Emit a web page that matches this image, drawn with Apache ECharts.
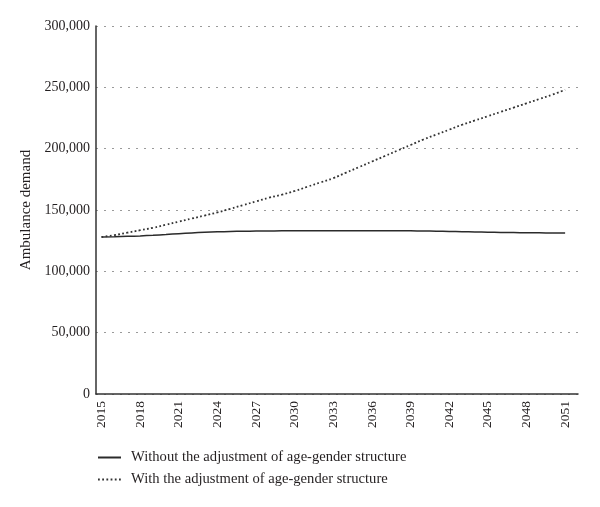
<!DOCTYPE html>
<html>
<head>
<meta charset="utf-8">
<script src="https://cdn.jsdelivr.net/npm/echarts@6/dist/echarts.min.js"></script>
<style>
  html, body { margin: 0; padding: 0; background: #fff; }
  #chart { width: 600px; height: 507px; }
</style>
</head>
<body>
<div id="chart"></div>
<script>
// years on the x axis (one point per year)
var years = [];
for (var y = 2015; y <= 2051; y++) years.push(y);

// tick labels shown under the axis
var yearLabels = [2015, 2018, 2021, 2024, 2027, 2030, 2033, 2036, 2039, 2042, 2045, 2048, 2051];

// ambulance demand
var withoutAdjust = [
  128000, 128200, 128500, 128900, 129400, 130000, 130700, 131300, 131800, 132200,
  132500, 132700, 132800, 132900, 133000, 133000, 133100, 133100, 133100, 133100,
  133100, 133100, 133100, 133100, 133000, 132900, 132700, 132500, 132300, 132100,
  131900, 131700, 131600, 131500, 131400, 131300, 131200
];
var withAdjust = [
  128000, 129500, 131500, 133500, 135500, 138000, 140500, 143000, 145500, 148000,
  151000, 154000, 157000, 160000, 162500, 165500, 169000, 172500, 176000, 180500,
  185000, 189500, 194000, 198500, 203000, 207500, 211500, 215500, 219500, 223000,
  226500, 230000, 233500, 237000, 240500, 244000, 248000
];

var seriesNames = [
  'Without the adjustment of age-gender structure',
  'With the adjustment of age-gender structure'
];

function pairs(vals) {
  return years.map(function (yr, i) { return [yr, vals[i]]; });
}

var font = '"Liberation Serif", "DejaVu Serif", serif';
var chart = echarts.init(document.getElementById('chart'));

var option = {
  animation: false,
  textStyle: { fontFamily: font },
  grid: { left: 96, right: 22, top: 26, bottom: 113 },
  legend: {
    orient: 'vertical',
    left: 97,
    top: 450,
    padding: 0,
    itemWidth: 23,
    itemHeight: 10,
    itemGap: 7,
    // hide the circle symbol, keep only the line sample
    itemStyle: { opacity: 0 },
    textStyle: { fontFamily: font, fontSize: 14.6, color: '#231f20', padding: [0, 0, 0, 5] },
    data: seriesNames
  },
  xAxis: {
    type: 'value',
    min: 2014.57,
    max: 2052,
    axisLine: { show: true, lineStyle: { color: '#333', width: 1.5 } },
    axisTick: { show: false },
    splitLine: { show: false },
    axisLabel: {
      customValues: yearLabels,
      rotate: 90,
      margin: 7,
      fontFamily: font,
      fontSize: 13.5,
      color: '#231f20',
      formatter: function (v) { return String(v); }
    }
  },
  yAxis: {
    type: 'value',
    min: 0,
    max: 300000,
    interval: 50000,
    name: 'Ambulance demand',
    nameLocation: 'middle',
    nameGap: 55,
    nameTextStyle: { fontFamily: font, fontSize: 15, color: '#231f20' },
    axisLine: { show: true, lineStyle: { color: '#333', width: 1.5 } },
    axisTick: { show: false },
    axisLabel: { margin: 6, fontFamily: font, fontSize: 14, color: '#231f20' },
    splitLine: { lineStyle: { color: '#9a9a9a', type: [2, 6], width: 1.2 } }
  },
  series: [
    {
      name: seriesNames[0],
      type: 'line',
      symbol: 'none',
      smooth: true,
      lineStyle: { color: '#2b2b2b', width: 1.5 },
      itemStyle: { color: '#2b2b2b' },
      data: pairs(withoutAdjust)
    },
    {
      name: seriesNames[1],
      type: 'line',
      symbol: 'none',
      smooth: true,
      lineStyle: { color: '#333', width: 1.8, type: [1.8, 2.4] },
      itemStyle: { color: '#333' },
      data: pairs(withAdjust)
    }
  ]
};
chart.setOption(option);
</script>
</body>
</html>
